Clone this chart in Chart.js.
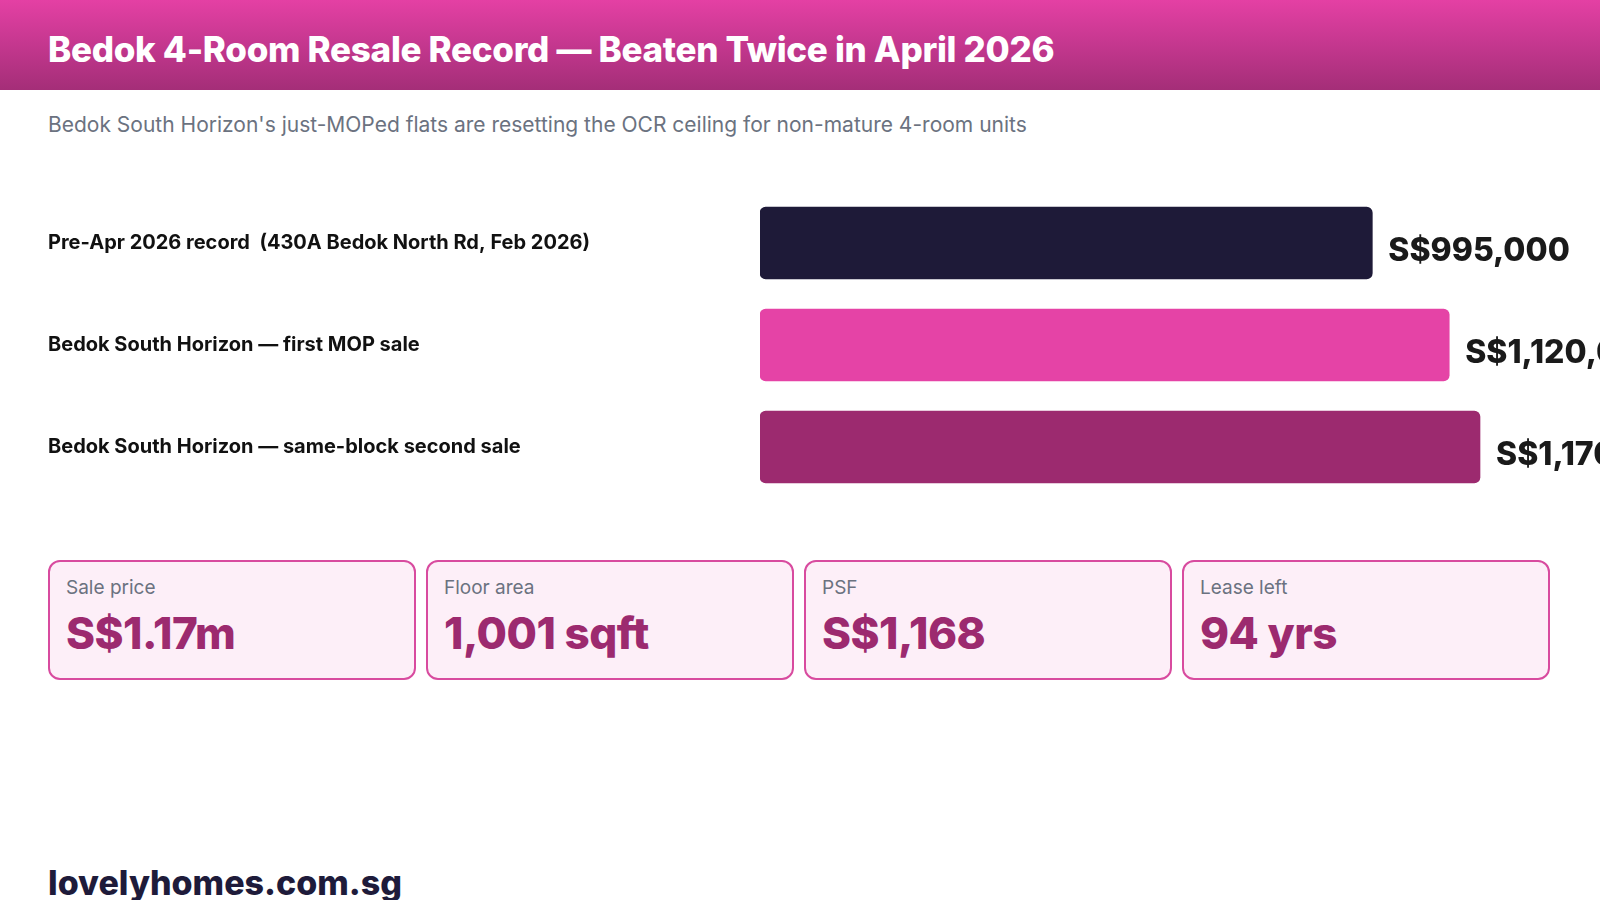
<!DOCTYPE html>
<html><head><meta charset="utf-8">
<script src="https://cdn.jsdelivr.net/npm/chart.js@4"></script>
<style>
html,body{margin:0;padding:0;width:1600px;height:900px;overflow:hidden;background:#fff;font-family:Inter,"Open Sans",sans-serif;}
#hdr{position:absolute;left:0;top:0;width:1600px;height:90px;background:linear-gradient(#e440a4,#a42e78);}
#hdr h1{margin:0;position:absolute;left:48px;top:28px;font-size:35px;font-weight:800;color:#fff;letter-spacing:-0.3px;}
#sub{position:absolute;left:48px;top:112px;font-size:21px;color:#6b7280;}
#wrap{position:absolute;left:48px;top:180px;width:1552px;height:330px;}
.card{position:absolute;top:560px;width:364px;height:116px;border:2px solid #d84b9f;border-radius:12px;background:#fdeff8;box-sizing:content-box;}
.card .l{position:absolute;left:16px;top:14px;font-size:19px;color:#6b7280;}
.card .v{position:absolute;left:16px;top:44px;font-size:44px;font-weight:800;color:#9c2a6f;letter-spacing:-0.5px;}
#foot{position:absolute;left:48px;top:862px;font-size:34px;font-weight:800;color:#1e1b3a;}
</style></head><body>
<div id="hdr"><h1>Bedok 4-Room Resale Record — Beaten Twice in April 2026</h1></div>
<div id="sub">Bedok South Horizon's just-MOPed flats are resetting the OCR ceiling for non-mature 4-room units</div>
<div id="wrap"><canvas id="c"></canvas></div>
<div id="cards"></div>
<div id="foot">lovelyhomes.com.sg</div>
<script>
const categories=["Pre-Apr 2026 record  (430A Bedok North Rd, Feb 2026)","Bedok South Horizon — first MOP sale","Bedok South Horizon — same-block second sale"];
const prices=[995000,1120000,1170000];
const priceLabels=["S$995,000","S$1,120,000","S$1,170,000"];
const barColors=["#1e1a38","#e543a6","#9c2a6f"];
const cardLabels=["Sale price","Floor area","PSF","Lease left"];
const cardValues=["S$1.17m","1,001 sqft","S$1,168","94 yrs"];
const cardsEl=document.getElementById('cards');
cardLabels.forEach((l,i)=>{const d=document.createElement('div');d.className='card';d.style.left=(48+i*378)+'px';d.innerHTML='<div class="l">'+l+'</div><div class="v">'+cardValues[i]+'</div>';cardsEl.appendChild(d);});
const valPlugin={id:'vals',afterDatasetsDraw(ch){const ctx=ch.ctx;const m=ch.getDatasetMeta(0);ctx.save();ctx.font='800 32px Inter, sans-serif';ctx.fillStyle='#1a1a1a';ctx.textBaseline='middle';m.data.forEach((b,i)=>{ctx.fillText(priceLabels[i],b.x+16,b.y+8);});ctx.restore();}};
new Chart(document.getElementById('c'),{type:'bar',data:{labels:categories,datasets:[{data:prices,backgroundColor:barColors,borderRadius:6,borderSkipped:false,barThickness:72}]},
options:{indexAxis:'y',responsive:true,maintainAspectRatio:false,animation:false,layout:{padding:0},
plugins:{legend:{display:false},tooltip:{enabled:false}},
scales:{x:{display:false,min:0,max:1365000},y:{grid:{display:false},border:{display:false},afterFit(s){s.width=712;},ticks:{crossAlign:'far',padding:0,color:'#111',font:{family:'Inter',size:20,weight:'700'}}}}},
plugins:[valPlugin]});
</script></body></html>
